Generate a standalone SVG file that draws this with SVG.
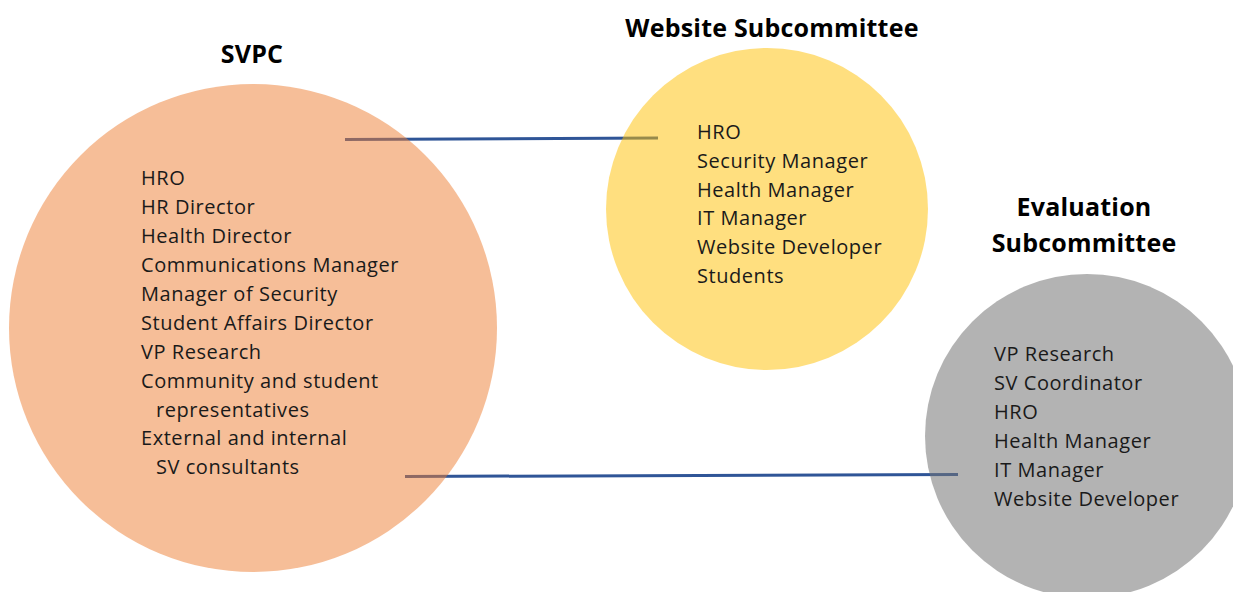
<svg xmlns="http://www.w3.org/2000/svg" width="1233" height="592" viewBox="0 0 1233 592">
<style>
.item{font-family:"Open Sans","Liberation Sans",sans-serif;font-size:20px;letter-spacing:0.55px;fill:#1a1a1a}
.title{font-family:"Open Sans","Liberation Sans",sans-serif;font-size:25px;letter-spacing:0.2px;font-weight:bold;fill:#000;text-anchor:middle}
.conn{stroke:#2F5597;stroke-width:3;fill:none}
</style>
<rect width="1233" height="592" fill="#fff"/>
<g id="connectors">
<line class="conn" x1="345" y1="139.5" x2="658" y2="138"/>
<line class="conn" x1="405" y1="476.5" x2="958" y2="474.5"/>
</g>
<g id="svpc">
<circle cx="253" cy="328" r="244" fill="#ED7D31" fill-opacity="0.5"/>
<text class="title" x="252" y="63">SVPC</text>
<text class="item" x="141" y="185">HRO</text>
<text class="item" x="141" y="214">HR Director</text>
<text class="item" x="141" y="243">Health Director</text>
<text class="item" x="141" y="272">Communications Manager</text>
<text class="item" x="141" y="301">Manager of Security</text>
<text class="item" x="141" y="330">Student Affairs Director</text>
<text class="item" x="141" y="359">VP Research</text>
<text class="item" x="141" y="388">Community and student</text>
<text class="item" x="156" y="417">representatives</text>
<text class="item" x="141" y="445">External and internal</text>
<text class="item" x="156" y="474">SV consultants</text>
</g>
<g id="website">
<circle cx="767" cy="209" r="161" fill="#FFC000" fill-opacity="0.5"/>
<text class="title" x="772" y="37">Website Subcommittee</text>
<text class="item" x="697" y="139">HRO</text>
<text class="item" x="697" y="168">Security Manager</text>
<text class="item" x="697" y="197">Health Manager</text>
<text class="item" x="697" y="225">IT Manager</text>
<text class="item" x="697" y="254">Website Developer</text>
<text class="item" x="697" y="283">Students</text>
</g>
<g id="evaluation">
<circle cx="1087" cy="436" r="162" fill="#747474" fill-opacity="0.55"/>
<text class="title" x="1084" y="216">Evaluation</text>
<text class="title" x="1084" y="252">Subcommittee</text>
<text class="item" x="994" y="361">VP Research</text>
<text class="item" x="994" y="390">SV Coordinator</text>
<text class="item" x="994" y="419">HRO</text>
<text class="item" x="994" y="448">Health Manager</text>
<text class="item" x="994" y="477">IT Manager</text>
<text class="item" x="994" y="506">Website Developer</text>
</g>
</svg>
